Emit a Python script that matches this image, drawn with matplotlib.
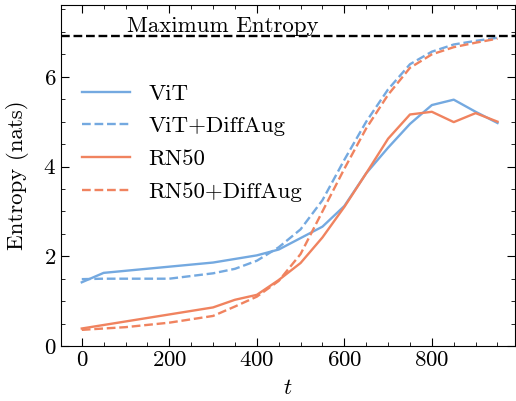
import numpy as np
import matplotlib as mpl
import matplotlib.pyplot as plt
from matplotlib.ticker import MultipleLocator

mpl.rcParams.update({
    'font.size': 16.5,
    'font.family': 'serif',
    'font.serif': ['cmr10'],
    'mathtext.fontset': 'cm',
    'axes.formatter.use_mathtext': True,
    'xtick.direction': 'in',
    'ytick.direction': 'in',
    'xtick.top': True,
    'ytick.right': True,
    'xtick.major.size': 6,
    'ytick.major.size': 6,
    'xtick.minor.size': 3,
    'ytick.minor.size': 3,
    'xtick.minor.visible': True,
    'ytick.minor.visible': True,
})

blue = '#74a9e0'
orange = '#f0835f'

# ViT
vit_t = [0, 50, 300, 400, 450, 550, 600, 650, 700, 750, 800, 850, 900, 950]
vit = [1.42, 1.63, 1.86, 2.02, 2.15, 2.66, 3.12, 3.85, 4.42, 4.95, 5.37, 5.49, 5.22, 4.97]

# ViT + DiffAug
vit_da_t = [0, 50, 200, 300, 350, 400, 450, 500, 550, 600, 650, 700, 750, 800, 850, 900, 950]
vit_da = [1.49, 1.5, 1.5, 1.62, 1.72, 1.9, 2.2, 2.6, 3.25, 4.15, 5.0, 5.72, 6.28, 6.56, 6.72, 6.8, 6.87]

# RN50
rn_t = [0, 300, 350, 400, 450, 500, 550, 600, 650, 700, 750, 800, 850, 900, 950]
rn = [0.39, 0.86, 1.03, 1.14, 1.47, 1.85, 2.42, 3.1, 3.85, 4.62, 5.16, 5.22, 4.99, 5.19, 5.0]

# RN50 + DiffAug
rn_da_t = [0, 100, 200, 300, 350, 400, 450, 500, 550, 600, 650, 700, 750, 800, 850, 900, 950]
rn_da = [0.36, 0.42, 0.52, 0.67, 0.88, 1.1, 1.45, 2.05, 3.0, 3.95, 4.85, 5.6, 6.2, 6.5, 6.66, 6.76, 6.85]

max_entropy = np.log(1000)

fig = plt.figure(figsize=(5.16, 4.01), dpi=100)
ax = fig.add_axes([61/516, 55/401, 454/516, 341/401])

ax.plot(vit_t, vit, color=blue, lw=1.7, label='ViT')
ax.plot(vit_da_t, vit_da, color=blue, lw=1.7, ls='--', label='ViT+DiffAug')
ax.plot(rn_t, rn, color=orange, lw=1.7, label='RN50')
ax.plot(rn_da_t, rn_da, color=orange, lw=1.7, ls='--', label='RN50+DiffAug')

ax.axhline(max_entropy, color='k', ls='--', lw=1.7)
ax.text(103, max_entropy + 0.01, 'Maximum Entropy', va='bottom', ha='left')

ax.set_xlim(-47.5, 990)
ax.set_ylim(0, 7.6)
ax.xaxis.set_major_locator(MultipleLocator(200))
ax.xaxis.set_minor_locator(MultipleLocator(50))
ax.yaxis.set_major_locator(MultipleLocator(2))
ax.yaxis.set_minor_locator(MultipleLocator(0.5))

ax.set_xlabel('$t$', labelpad=6)
ax.set_ylabel('Entropy (nats)', labelpad=10)
ax.legend(loc='upper left', bbox_to_anchor=(0.0, 0.83), frameon=False,
          handlelength=2.1, labelspacing=0.55)

plt.savefig('out.png', dpi=100)
